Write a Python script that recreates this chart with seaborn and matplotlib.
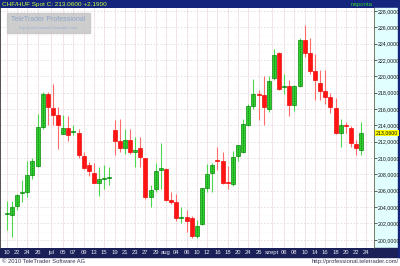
import numpy as np
import matplotlib
matplotlib.use("Agg")
import matplotlib.pyplot as plt
import seaborn as sns
from matplotlib.patches import Rectangle

# ---- data ----
open_ = [203.1, 203.0, 204.1, 205.7, 205.8, 207.9, 209.0, 213.8, 217.9, 216.1,
         215.3, 213.0, 213.7, 213.2, 213.1, 210.3, 209.2, 208.2, 206.9, 207.4,
         207.55, 213.4, 212.1, 211.2, 212.2, 210.8, 211.2, 210.0, 205.2, 206.2,
         208.6, 208.7, 204.9, 204.6, 202.7, 202.8, 202.7, 200.5, 201.9, 206.3,
         208.2, 209.7, 209.6, 207.0, 206.8, 210.3, 210.8, 214.1, 216.4, 217.8,
         217.7, 216.0, 219.8, 222.8, 218.7, 218.8, 216.5, 218.8, 224.4, 222.8,
         220.7, 219.2, 218.2, 217.5, 216.1, 213.1, 214.0, 213.7, 211.7, 211.0]
high = [204.8, 204.8, 205.6, 207.3, 209.6, 210.0, 215.4, 218.1, 218.1, 219.1,
        216.2, 215.3, 215.1, 214.1, 213.5, 210.7, 209.5, 209.4, 208.9, 209.1,
        208.9, 214.7, 214.8, 213.5, 213.5, 212.6, 212.6, 210.0, 206.7, 209.4,
        211.9, 208.8, 205.8, 205.6, 204.0, 203.7, 202.9, 202.4, 206.4, 209.3,
        209.4, 211.4, 210.7, 209.0, 210.9, 211.6, 214.8, 216.6, 219.7, 218.3,
        220.1, 220.1, 223.3, 223.0, 220.3, 219.5, 218.9, 224.7, 226.3, 224.7,
        222.7, 220.8, 220.8, 218.0, 217.3, 214.8, 214.4, 213.9, 212.2, 214.4]
low = [201.2, 200.4, 203.7, 204.6, 205.2, 207.5, 208.9, 213.6, 214.0, 214.1,
       211.1, 212.9, 212.1, 212.8, 210.0, 208.7, 207.8, 206.9, 205.4, 206.2,
       206.7, 210.4, 210.8, 210.5, 210.5, 208.9, 208.9, 205.0, 204.0, 205.8,
       206.2, 204.8, 204.4, 202.3, 202.1, 200.9, 200.2, 200.2, 201.8, 205.9,
       205.9, 208.6, 206.8, 206.2, 206.6, 209.6, 210.6, 213.9, 216.0, 214.6,
       214.1, 215.6, 219.6, 218.3, 217.9, 215.2, 215.7, 218.7, 222.4, 220.3,
       217.1, 217.1, 216.6, 215.5, 213.0, 211.3, 213.1, 211.3, 210.4, 210.4]
close = [203.2, 204.0, 205.5, 205.8, 207.9, 209.6, 213.8, 217.9, 216.2, 215.3,
         214.0, 213.7, 212.8, 213.3, 210.4, 208.8, 208.4, 207.0, 207.5, 207.5,
         207.65, 212.1, 211.2, 212.2, 210.7, 210.9, 210.1, 205.2, 206.1, 208.4,
         208.7, 204.9, 204.6, 202.7, 202.8, 202.3, 200.5, 201.7, 206.4, 208.1,
         209.1, 209.6, 207.0, 206.9, 210.1, 211.6, 214.2, 216.4, 217.8, 217.7,
         216.2, 219.4, 222.6, 218.4, 218.8, 216.5, 218.8, 224.5, 222.8, 220.7,
         219.5, 218.2, 217.5, 216.3, 213.1, 214.0, 213.9, 211.9, 211.2, 213.06]
x_labels = ["10", "22", "24", "26", "jul", "05", "07", "09", "13", "15", "19",
            "21", "23", "27", "29", "aug", "04", "06", "10", "12", "16", "18",
            "20", "24", "26", "szept", "06", "08", "10", "14", "16", "18", "20",
            "22", "24"]
# candle slot under each label
x_label_slots = ([0, 2, 4, 6, 8.6] + list(range(11, 50, 2)) + [51.6]
                 + list(range(54, 71, 2)))
y_ticks = list(range(200, 229, 2))
title_text = "CHF/HUF Spot C: 213.0600 +2.1900"
period_text = "naponta"
last_price = 213.06

# ---- style ----
sns.set_style("white")
plt.rcParams["font.family"] = ["Liberation Sans", "DejaVu Sans"]

W, H = 400, 266
fig = plt.figure(figsize=(4, 2.66), dpi=100)
fig.patch.set_facecolor("white")

def fx(px):
    return px / W

def fy(py):
    return 1 - py / H

def frect(x0, y0, x1, y1, **kw):
    r = Rectangle((fx(x0), fy(y1)), (x1 - x0) / W, (y1 - y0) / H,
                  transform=fig.transFigure, **kw)
    fig.patches.append(r)
    return r

# bars / panels
frect(0, 0, 400, 8, color="#15257d", zorder=-1)
frect(374, 8, 398, 248, color="#e2ffff", zorder=-1)
frect(0, 248, 400, 257, color="#1b2058", zorder=-1)
frect(398, 0, 400, 257, color="#15257d", zorder=-1)

ax = fig.add_axes([0, fy(248), 374 / W, 240 / H])
ax.set_facecolor("white")

n = len(close)
idx = np.arange(n)
o = np.array(open_)
c = np.array(close)
hi = np.array(high)
lo = np.array(low)
up = c >= o

wick_cols = np.where(up, "#4fd84f", "#ff6a6a")
body_cols = np.where(up, "#2fcf2f", "#ff1414")
edge_cols = np.where(up, "#0c8a0c", "#ee1010")

ax.vlines(idx, lo, hi, colors=list(wick_cols), lw=0.8, zorder=2)
bottoms = np.minimum(o, c)
heights = np.maximum(np.abs(c - o), 0.14)
ax.bar(idx, heights, bottom=bottoms, width=0.78, color=list(body_cols),
       edgecolor=list(edge_cols), linewidth=0.5, zorder=3)
ax.vlines(idx[up], bottoms[up], (bottoms + heights)[up], colors="#0b700b",
          lw=0.6, linestyles=(0, (1, 1)), zorder=4)

ax.set_xlim(-1.3, 71.47)
ax.set_ylim(199.39, 228.36)

# ticks
ax.set_xticks(x_label_slots)
ax.set_xticklabels(x_labels)
ax.tick_params(axis="x", length=0, pad=1.6, labelsize=4.2, labelcolor="#e8e8f4")

ax.yaxis.tick_right()
ax.set_yticks(y_ticks)
ax.set_yticklabels([f"{v},0000" for v in y_ticks])
ax.set_yticks(np.arange(199, 229, 1), minor=True)
ax.tick_params(axis="y", which="major", length=2, width=0.6, color="#444444",
               pad=0.8, labelsize=3.8, labelcolor="#111111")
ax.tick_params(axis="y", which="minor", length=0)

ax.grid(axis="x", which="major", color="#f1e3e8", lw=0.7)
ax.grid(axis="y", which="major", color="#e8d8de", lw=0.6, ls=(0, (2, 2)))
ax.grid(axis="y", which="minor", color="#f2e8eb", lw=0.5, ls=(0, (1, 3)))
ax.set_axisbelow(True)

for s in ["top", "bottom"]:
    ax.spines[s].set_visible(False)
ax.spines["left"].set_color("#333333")
ax.spines["left"].set_linewidth(1.2)
ax.spines["right"].set_color("#666644")
ax.spines["right"].set_linewidth(0.6)

# last price marker
ax.text(1.004, last_price, "213,0600", transform=ax.get_yaxis_transform(),
        ha="left", va="center", fontsize=3.8, color="#111111", clip_on=False,
        bbox=dict(boxstyle="square,pad=0.15", fc="#ffff00", ec="none"),
        zorder=10)

# header / footer text
fig.text(fx(2), fy(4.2), title_text, color="#c8ff3a", fontsize=4.6,
         va="center", ha="left")
fig.text(fx(362), fy(4.2), period_text, color="#33cc33", fontsize=4.4,
         va="center", ha="center")
fig.text(fx(2), fy(261.8), "\u00a9 2010 TeleTrader Software AG", color="#333355",
         fontsize=4.2, va="center", ha="left")
fig.text(fx(399), fy(261.8), "http://professional.teletrader.com/",
         color="#333355", fontsize=4.2, va="center", ha="right")

# watermark
frect(7, 13, 90, 33, color="#c6c6c6", alpha=0.85, zorder=5)
fig.text(fx(48.5), fy(19.5), "TeleTrader Professional", color="#8ea4c9",
         fontsize=5.0, va="center", ha="center", zorder=6)
fig.text(fx(48.5), fy(28), "http://professional.teletrader.com", color="#9fb2d2",
         fontsize=3.0, va="center", ha="center", zorder=6)

fig.savefig("out.png", dpi=100)
